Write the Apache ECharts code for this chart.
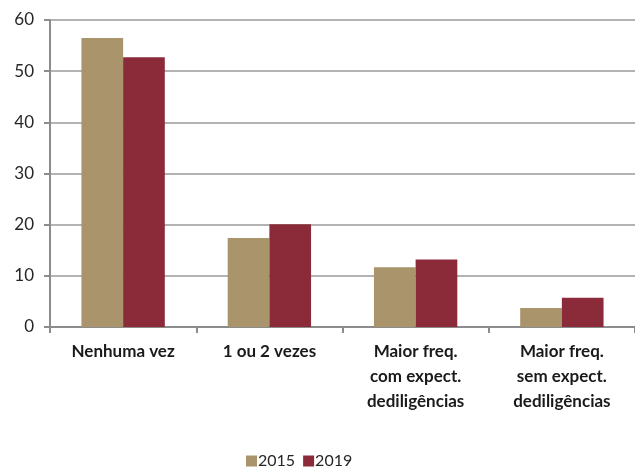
<!DOCTYPE html>
<html>
<head>
<meta charset="utf-8">
<script src="https://cdn.jsdelivr.net/npm/echarts@6/dist/echarts.min.js"></script>
<style>
  html, body { margin: 0; padding: 0; background: #fff; }
  #chart { width: 635px; height: 468px; }
</style>
</head>
<body>
<div id="chart"></div>
<script>
const categories = [
  'Nenhuma vez',
  '1 ou 2 vezes',
  'Maior freq.\ncom expect.\ndediligências',
  'Maior freq.\nsem expect.\ndediligências'
];
const values2015 = [56.5, 17.4, 11.7, 3.7];
const values2019 = [52.7, 20.1, 13.2, 5.7];
const yTicks = [0, 10, 20, 30, 40, 50, 60];

const FONT = 'Lato';
const chart = echarts.init(document.getElementById('chart'));

const option = {
  animation: false,
  textStyle: { fontFamily: FONT },
  legend: {
    data: ['2015', '2019'],
    top: 453,
    left: 246,
    padding: 0,
    itemWidth: 11,
    itemHeight: 11,
    itemGap: 8,
    icon: 'rect',
    textStyle: { fontFamily: FONT, fontSize: 16, color: '#262626', padding: [0, 0, 0, -4] }
  },
  grid: {
    left: 50,
    top: 20,
    width: 589,
    height: 307,
    containLabel: false
  },
  xAxis: {
    type: 'category',
    data: categories,
    axisLine: { lineStyle: { color: '#8c8c8c', width: 2 } },
    axisTick: { show: true, length: 6, lineStyle: { color: '#8c8c8c', width: 2 } },
    axisLabel: {
      fontFamily: FONT,
      fontWeight: 'bold',
      fontSize: 17,
      color: '#1a1a1a',
      lineHeight: 25,
      margin: 12,
      interval: 0
    }
  },
  yAxis: {
    type: 'value',
    min: yTicks[0],
    max: yTicks[yTicks.length - 1],
    interval: 10,
    axisLine: { show: true, lineStyle: { color: '#8c8c8c', width: 2 } },
    axisTick: { show: true, length: 6, inside: false, lineStyle: { color: '#8c8c8c', width: 2 } },
    splitLine: { lineStyle: { color: '#9a9a9a', width: 1.5 } },
    axisLabel: {
      fontFamily: FONT,
      fontSize: 17,
      color: '#262626',
      margin: 16
    }
  },
  series: [
    {
      name: '2015',
      type: 'bar',
      data: values2015,
      barGap: '0%',
      barCategoryGap: '43%',
      itemStyle: { color: '#a9946b' }
    },
    {
      name: '2019',
      type: 'bar',
      data: values2019,
      barGap: '0%',
      barCategoryGap: '43%',
      itemStyle: { color: '#8b2b3a' }
    }
  ]
};

chart.setOption(option);
</script>
</body>
</html>
